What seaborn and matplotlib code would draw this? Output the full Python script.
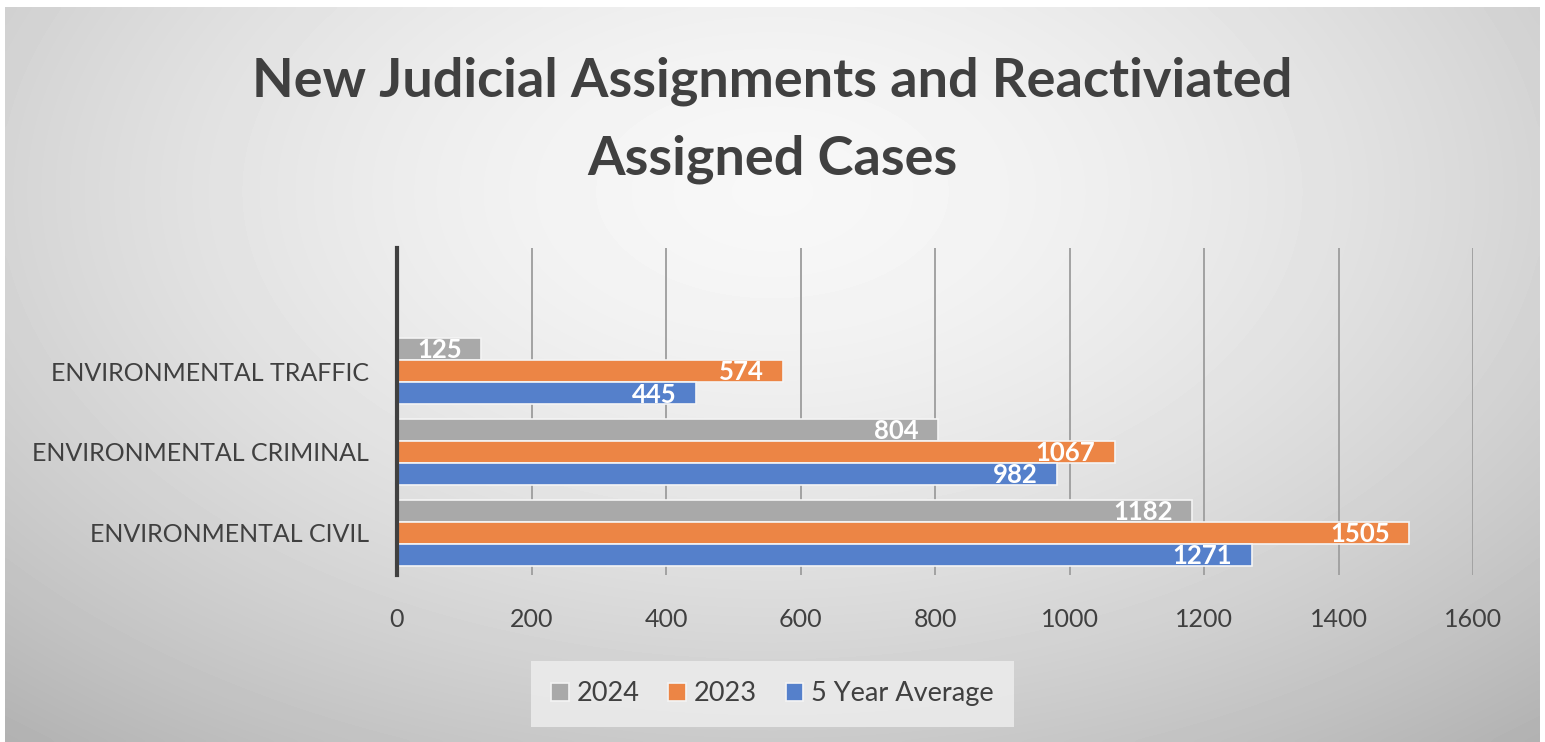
import numpy as np
import pandas as pd
import seaborn as sns
import matplotlib
matplotlib.use('Agg')
import matplotlib.pyplot as plt

# data
categories = ["ENVIRONMENTAL TRAFFIC", "ENVIRONMENTAL CRIMINAL", "ENVIRONMENTAL CIVIL"]
series = ["2024", "2023", "5 Year Average"]
vals_2024 = [125, 804, 1182]
vals_2023 = [574, 1067, 1505]
vals_5yr = [445, 982, 1271]
x_ticks = [0, 200, 400, 600, 800, 1000, 1200, 1400, 1600]

colors = ["#a9a9a9", "#ec8545", "#5580cb"]
text_col = "#404040"

df = pd.DataFrame({
    "Category": categories * 3,
    "Series": [series[0]] * 3 + [series[1]] * 3 + [series[2]] * 3,
    "Value": vals_2024 + vals_2023 + vals_5yr,
})

sns.set_style("white")
plt.rcParams['font.family'] = ['Lato', 'DejaVu Sans']

fig = plt.figure(figsize=(15.45, 7.42), dpi=100)
fig.patch.set_facecolor("white")

# radial grey background like the office chart style
bg = fig.add_axes([5 / 1545, 0, 1535 / 1545, 735 / 742], zorder=-10)
gx, gy = np.meshgrid(np.linspace(0, 1, 400), np.linspace(0, 1, 200))
r = np.sqrt(((gx - 0.5) / 0.75) ** 2 + ((gy - 0.75) / 0.95) ** 2)
shade = 0.97 - 0.26 * np.clip(r, 0, 1.2) ** 1.6
bg.imshow(shade, cmap="gray", vmin=0, vmax=1, aspect="auto", origin="lower",
          extent=[0, 1, 0, 1], interpolation="bicubic")
bg.set_axis_off()

ax = fig.add_axes([397 / 1545, 1 - 575 / 742, (1473 - 397) / 1545, (575 - 248) / 742])
ax.patch.set_alpha(0)

sns.barplot(data=df, y="Category", x="Value", hue="Series", order=categories,
            hue_order=series, palette=colors, saturation=1, width=0.82,
            orient="h", edgecolor="#f4f4f4", linewidth=1.2, ax=ax, zorder=3)

# value labels inside the bar end
for cont in ax.containers:
    for p in cont.patches:
        w = p.get_width()
        yc = p.get_y() + p.get_height() / 2
        ax.annotate(f"{w:.0f}", (w, yc), xytext=(-14, -1), textcoords="offset points",
                    ha="right", va="center", color="white", fontsize=18.5,
                    fontweight="bold", zorder=5)

ax.set_xlim(0, 1600)
ax.set_ylim(2.52, -1.52)
ax.set_xticks(x_ticks)
ax.set_xticklabels([str(t) for t in x_ticks])
ax.grid(axis="x", color="#a2a2a2", linewidth=1.4, zorder=0)
ax.grid(axis="y", visible=False)
for s in ["top", "right", "bottom"]:
    ax.spines[s].set_visible(False)
ax.spines["left"].set_color(text_col)
ax.spines["left"].set_linewidth(3)
ax.spines["left"].set_zorder(6)
ax.tick_params(axis="x", length=0, pad=24, labelsize=18, labelcolor=text_col)
ax.tick_params(axis="y", length=0, pad=20, labelsize=18, labelcolor=text_col)
ax.set_xlabel("")
ax.set_ylabel("")

handles, labels = ax.get_legend_handles_labels()
ax.legend_.remove()
leg = fig.legend(handles, labels, loc="center", bbox_to_anchor=(0.5, 0.065), ncol=3,
                 frameon=True, fontsize=19.5, handlelength=0.65, handleheight=0.65,
                 handletextpad=0.3, columnspacing=1.05, borderpad=0.75,
                 labelcolor=text_col)
leg.get_frame().set_facecolor("#ebebeb")
leg.get_frame().set_edgecolor("none")
leg.get_frame().set_alpha(0.9)
leg.get_frame().set_boxstyle("square", pad=0.0)

fig.text(0.5, 0.838, "New Judicial Assignments and Reactiviated\nAssigned Cases",
         ha="center", va="center", fontsize=39, fontweight="bold", color=text_col,
         linespacing=1.7)

fig.savefig("out.png", dpi=100)
